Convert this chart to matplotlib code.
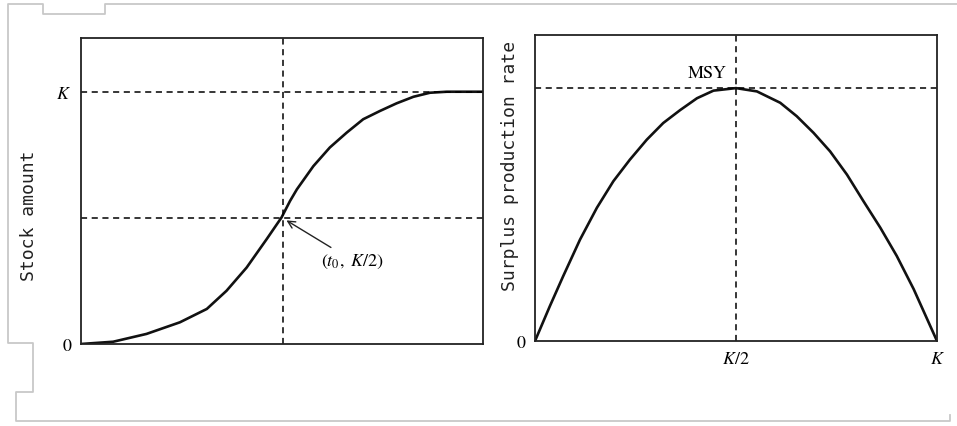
import matplotlib.pyplot as plt
from matplotlib.lines import Line2D

plt.rcParams['mathtext.fontset'] = 'stix'

# left panel: logistic growth of stock (time in arbitrary units 0-10, stock in units of K)
time_pts = [0.0, 0.80, 1.63, 2.46, 3.13, 3.62, 4.12, 4.62, 4.99, 5.20, 5.37, 5.78, 6.19, 6.61,
            7.02, 7.44, 7.85, 8.27, 8.68, 9.10, 10.0]
stock_pts = [0.0, 0.009, 0.040, 0.086, 0.139, 0.211, 0.303, 0.416, 0.502, 0.567, 0.613, 0.705,
             0.779, 0.838, 0.891, 0.924, 0.954, 0.980, 0.996, 1.0, 1.0]
t0 = 5.03

# right panel: surplus production vs stock (stock in units of K, production in units of MSY)
biomass_pts = [0.0, 0.037, 0.070, 0.112, 0.154, 0.195, 0.236, 0.278, 0.319, 0.361, 0.403, 0.444,
               0.500, 0.552, 0.610, 0.651, 0.693, 0.734, 0.776, 0.817, 0.859, 0.900, 0.942, 1.0]
surplus_pts = [0.0, 0.138, 0.256, 0.401, 0.527, 0.632, 0.717, 0.796, 0.862, 0.913, 0.960, 0.990,
               1.0, 0.987, 0.942, 0.889, 0.823, 0.750, 0.658, 0.553, 0.448, 0.336, 0.205, 0.0]

W, H = 957, 427
fig = plt.figure(figsize=(W / 100, H / 100), dpi=100)
fig.patch.set_facecolor('white')

# faint scanned-page frame
frame_x = [957, 105, 105, 43, 43, 8, 8, 33, 33, 16, 16, 950, 950]
frame_y = [5, 5, 15, 15, 5, 5, 344, 344, 393, 393, 422, 422, 416]
fig.add_artist(Line2D([x / W for x in frame_x], [1 - y / H for y in frame_y],
                      color='#c8c8c8', lw=1.3, transform=fig.transFigure))


def box(x0, x1, y0, y1):
    return [x0 / W, 1 - y1 / H, (x1 - x0) / W, (y1 - y0) / H]


dash = dict(color='black', lw=1.1, ls=(0, (4, 3)))
serif = 'STIXGeneral'
curve = dict(color='#111111', lw=1.9, solid_joinstyle='round', solid_capstyle='round')

# ---- left: stock amount
ax1 = fig.add_axes(box(81, 483, 39, 345))
ax1.plot(time_pts, stock_pts, **curve)
ax1.axhline(1.0, **dash)
ax1.axhline(0.5, **dash)
ax1.axvline(t0, **dash)
ax1.set_xlim(0, 10)
ax1.set_ylim(0, 1.213)
ax1.set_xticks([])
ax1.set_yticks([0, 1.0])
ax1.set_yticklabels(['0', '$K$'], fontfamily=serif, fontsize=13)
ax1.annotate(r'$(t_0,\ K/2)$', xy=(t0 + 0.08, 0.49), xytext=(5.98, 0.33),
             fontsize=13, va='center', ha='left',
             arrowprops=dict(arrowstyle='->', lw=1.0, color='#222222', shrinkA=2, shrinkB=0))
fig.text(29 / W, 1 - 216 / H, 'Stock amount', rotation=90, ha='center', va='center',
         fontfamily='DejaVu Sans Mono', fontsize=13, color='#222222')

# ---- right: surplus production rate
ax2 = fig.add_axes(box(535, 937, 36, 342))
ax2.plot(biomass_pts, surplus_pts, **curve)
ax2.axhline(1.0, **dash)
ax2.axvline(0.5, **dash)
ax2.set_xlim(0, 1.0)
ax2.set_ylim(0, 1.21)
ax2.set_xticks([0.5, 1.0])
ax2.set_xticklabels(['$K/2$', '$K$'], fontfamily=serif, fontsize=13)
ax2.set_yticks([0])
ax2.set_yticklabels(['0'], fontfamily=serif, fontsize=13)
ax2.text(0.428, 1.06, 'MSY', fontfamily=serif, fontsize=13, ha='center', va='center')
fig.text(510 / W, 1 - 166 / H, 'Surplus production rate', rotation=90, ha='center', va='center',
         fontfamily='DejaVu Sans Mono', fontsize=13, color='#222222')

for ax in (ax1, ax2):
    ax.tick_params(length=0, pad=7)
    for s in ax.spines.values():
        s.set_linewidth(1.3)
        s.set_color('#222222')

fig.savefig('out.png', dpi=100)
